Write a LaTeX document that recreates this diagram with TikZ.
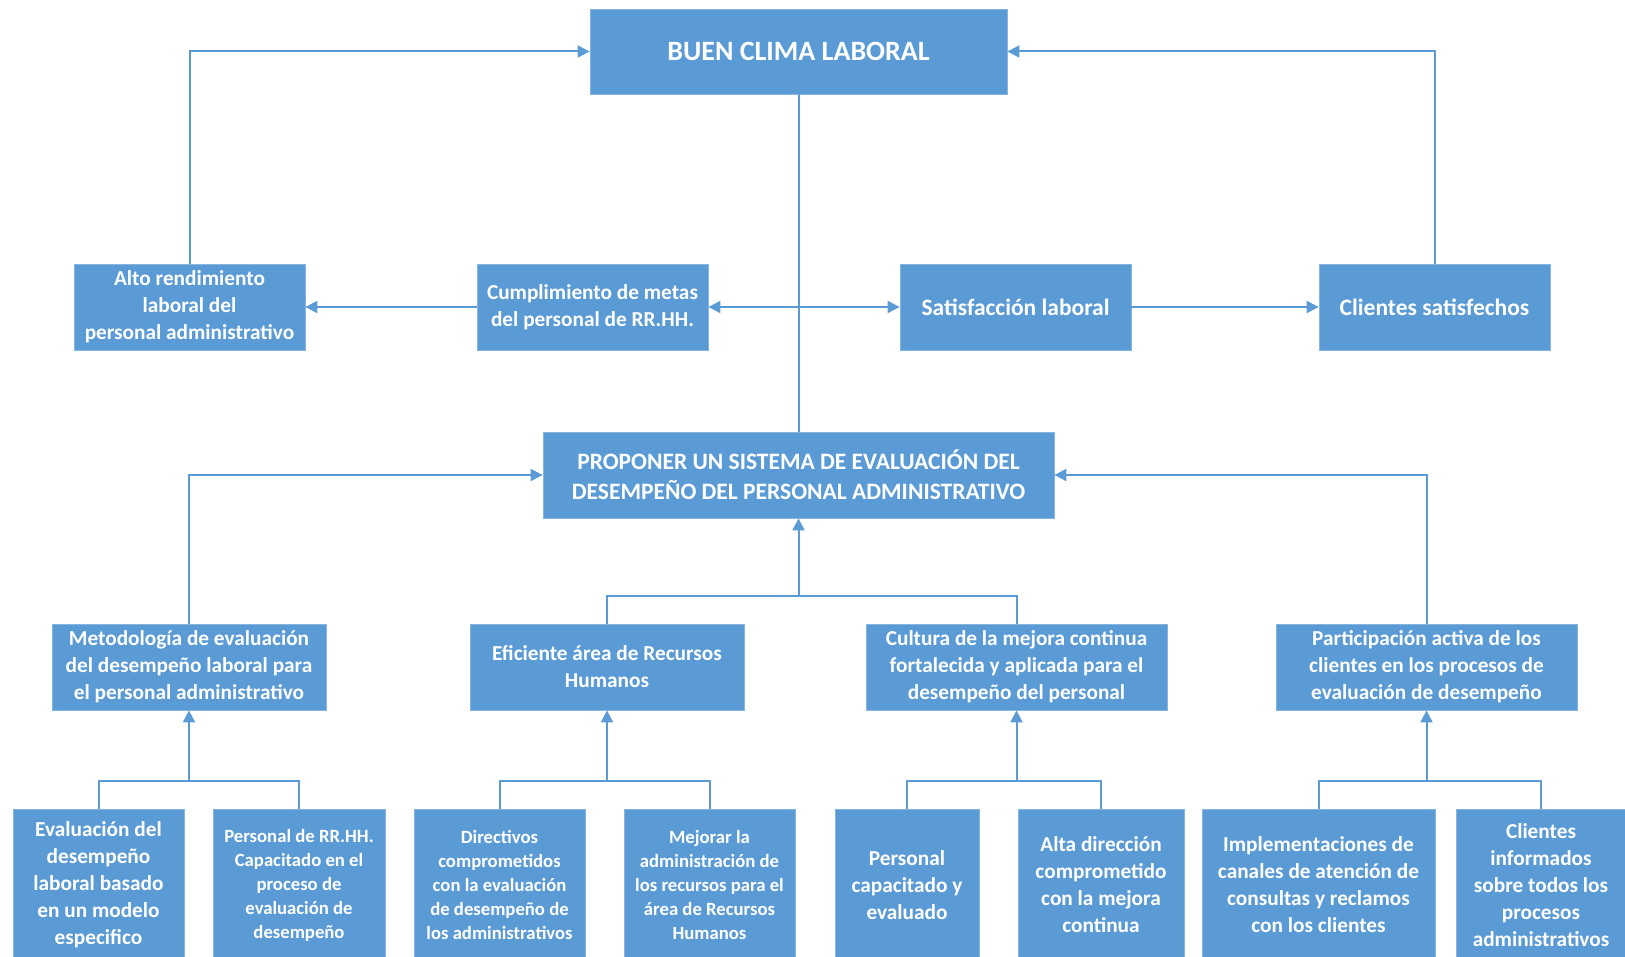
\documentclass[tikz,border=0pt]{standalone}
\usepackage{fontspec}
\setmainfont{Carlito}
\usetikzlibrary{arrows.meta}
\definecolor{boxblue}{HTML}{5B9BD5}
\definecolor{linkblue}{HTML}{5B9BD5}

\begin{document}
\begin{tikzpicture}[x=1pt,y=-1pt,
  box/.style={fill=boxblue, draw=boxblue!75!white, line width=0.8pt, text=white,
    font=\bfseries\fontsize{21.3}{27}\selectfont, align=center, inner sep=0pt},
  small/.style={font=\bfseries\fontsize{18.7}{24}\selectfont},
  large/.style={font=\bfseries\fontsize{23.5}{28}\selectfont},
  link/.style={draw=linkblue, line width=2pt},
  arr/.style={link, -{Triangle[length=12pt,width=12pt]}},
  dbl/.style={link, {Triangle[length=12pt,width=12pt]}-{Triangle[length=12pt,width=12pt]}},
]
\useasboundingbox (0,0) rectangle (1625,957);
\clip (0,0) rectangle (1625,957);

% goal at the top
\node[box, minimum width=417pt, minimum height=85pt,
  font=\bfseries\fontsize{28}{32}\selectfont] (buen) at (798.5,51.5) {BUEN CLIMA LABORAL};

% effects row
\node[box, minimum width=231pt, minimum height=86pt] (alto) at (189.5,307)
  {Alto rendimiento\\laboral del\\personal administrativo};
\node[box, minimum width=231pt, minimum height=86pt] (cump) at (592.5,307)
  {Cumplimiento de metas\\del personal de RR.HH.};
\node[box, large, minimum width=231pt, minimum height=86pt] (sat) at (1015.5,307)
  {Satisfacción laboral};
\node[box, large, minimum width=231pt, minimum height=86pt] (cli) at (1434.5,307)
  {Clientes satisfechos};

% central proposal
\node[box, minimum width=511pt, minimum height=86pt,
  font=\bfseries\fontsize{23.5}{30}\selectfont] (prop) at (798.5,475)
  {PROPONER UN SISTEMA DE EVALUACIÓN DEL\\DESEMPEÑO DEL PERSONAL ADMINISTRATIVO};

% means row
\node[box, minimum width=274pt, minimum height=86pt] (met) at (189,667)
  {Metodología de evaluación\\del desempeño laboral para\\el personal administrativo};
\node[box, minimum width=274pt, minimum height=86pt] (efi) at (607,667)
  {Eficiente área de Recursos\\Humanos};
\node[box, minimum width=301pt, minimum height=86pt] (cul) at (1016.5,667)
  {Cultura de la mejora continua\\fortalecida y aplicada para el\\desempeño del personal};
\node[box, minimum width=301pt, minimum height=86pt] (par) at (1426.5,667)
  {Participación activa de los\\clientes en los procesos de\\evaluación de desempeño};

% actions row (runs past the lower edge)
\node[box, minimum width=171pt, minimum height=152pt] (b1) at (98.5,885)
  {Evaluación del\\desempeño\\laboral basado\\en un modelo\\especifico};
\node[box, small, minimum width=172pt, minimum height=152pt] (b2) at (299,885)
  {Personal de RR.HH.\\Capacitado en el\\proceso de\\evaluación de\\desempeño};
\node[box, small, minimum width=171pt, minimum height=152pt] (b3) at (499.5,885)
  {Directivos\\comprometidos\\con la evaluación\\de desempeño de\\los administrativos};
\node[box, small, minimum width=171pt, minimum height=152pt] (b4) at (709.5,885)
  {Mejorar la\\administración de\\los recursos para el\\área de Recursos\\Humanos};
\node[box, minimum width=144pt, minimum height=152pt] (b5) at (907,885)
  {Personal\\capacitado y\\evaluado};
\node[box, minimum width=166pt, minimum height=152pt] (b6) at (1101,885)
  {Alta dirección\\comprometido\\con la mejora\\continua};
\node[box, minimum width=233pt, minimum height=152pt] (b7) at (1318.5,885)
  {Implementaciones de\\canales de atención de\\consultas y reclamos\\con los clientes};
\node[box, minimum width=170pt, minimum height=152pt] (b8) at (1541,885)
  {Clientes\\informados\\sobre todos los\\procesos\\administrativos};

% upper connectors
\draw[arr] (alto.north) |- (buen.west);
\draw[arr] (cli.north) |- (buen.east);
\draw[link] (buen.south) -- (prop.north);
\draw[arr] (cump.west) -- (alto.east);
\draw[dbl] (cump.east) -- (sat.west);
\draw[arr] (sat.east) -- (cli.west);

% middle connectors
\draw[arr] (met.north) |- (prop.west);
\draw[arr] (par.north) |- (prop.east);
\path (prop.south) ++(0,78) coordinate (jp);
\draw[link] (efi.north) |- (jp) -| (cul.north);
\draw[arr] (jp) -- (prop.south);

% lower brackets
\path (met.south) ++(0,71) coordinate (j1);
\path (efi.south) ++(0,71) coordinate (j2);
\path (cul.south) ++(0,71) coordinate (j3);
\path (par.south) ++(0,71) coordinate (j4);
\draw[link] (b1.north) |- (j1) -| (b2.north);
\draw[arr] (j1) -- (met.south);
\draw[link] (b3.north) |- (j2) -| (b4.north);
\draw[arr] (j2) -- (efi.south);
\draw[link] (b5.north) |- (j3) -| (b6.north);
\draw[arr] (j3) -- (cul.south);
\draw[link] (b7.north) |- (j4) -| (b8.north);
\draw[arr] (j4) -- (par.south);
\end{tikzpicture}
\end{document}
